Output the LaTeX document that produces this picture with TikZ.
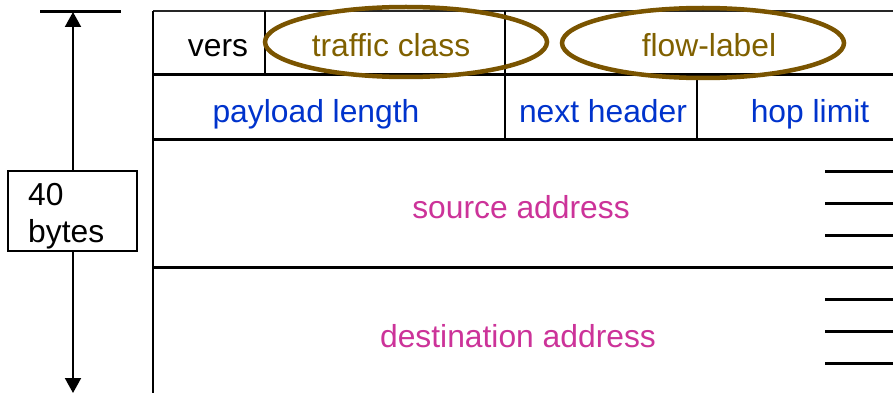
\documentclass[tikz,border=0pt]{standalone}
\usepackage{fontspec}
\setmainfont{Liberation Sans}
\usetikzlibrary{arrows.meta}
\definecolor{fieldbrown}{RGB}{128,96,0}
\definecolor{ringbrown}{RGB}{122,84,0}
\definecolor{fieldblue}{RGB}{0,51,204}
\definecolor{fieldpink}{RGB}{204,51,153}
\tikzset{
  lbl/.style={anchor=base, inner sep=0pt, font=\fontsize{31.8}{37}\selectfont},
  rowline/.style={line width=3pt},
  colline/.style={line width=2pt},
  ring/.style={draw=ringbrown, line width=4.5pt},
  dimarrow/.style={line width=2pt, -{Triangle[width=16pt,length=15pt]}},
}
\begin{document}
\begin{tikzpicture}[x=1pt,y=-1pt]
\useasboundingbox (0,0) rectangle (893,393);

% header grid
\draw[line width=1.6pt, black!85] (153,11) -- (893,11);
\draw[colline] (153,11) -- (153,393);
\draw[rowline] (153,75) -- (893,75);
\draw[rowline] (153,139) -- (893,139);
\draw[rowline] (153,267) -- (893,267);
\draw[colline] (265,11) -- (265,75);
\draw[colline] (505,11) -- (505,139);
\draw[colline] (697,75) -- (697,139);

% address continuation marks
\foreach \y in {171,203,235,299,331,363}
  \draw[rowline] (825,\y) -- (893,\y);

% highlighted fields
\draw[ring] (406,42) ellipse (141 and 35);
\draw[ring] (703,43) ellipse (141 and 35);

% field labels
\node[lbl] (vers) at (218,57) {vers};
\node[lbl, text=fieldbrown] (tclass) at (391,57) {traffic class};
\node[lbl, text=fieldbrown] (flow) at (709,57) {flow-label};
\node[lbl, text=fieldblue] (plen) at (316,122) {payload length};
\node[lbl, text=fieldblue] (nxt) at (603,122) {next header};
\node[lbl, text=fieldblue] (hop) at (810,122) {hop limit};
\node[lbl, text=fieldpink] (src) at (521,218) {source address};
\node[lbl, text=fieldpink] (dst) at (518,347) {destination address};

% header length dimension
\draw[line width=2.5pt] (40,11.5) -- (121,11.5);
\coordinate (dimtop) at (73,12);
\coordinate (dimbot) at (73,393);
\node[draw, line width=1.3pt, minimum width=129pt, minimum height=80pt,
      inner sep=0pt] (len) at (72.5,211) {};
\node[lbl, anchor=base west] (forty) at (28,205) {40};
\node[lbl, anchor=base west] (bytes) at (28,242) {bytes};
\draw[dimarrow] (len.north -| dimtop) -- (dimtop);
\draw[dimarrow] (len.south -| dimbot) -- (dimbot);
\end{tikzpicture}
\end{document}
